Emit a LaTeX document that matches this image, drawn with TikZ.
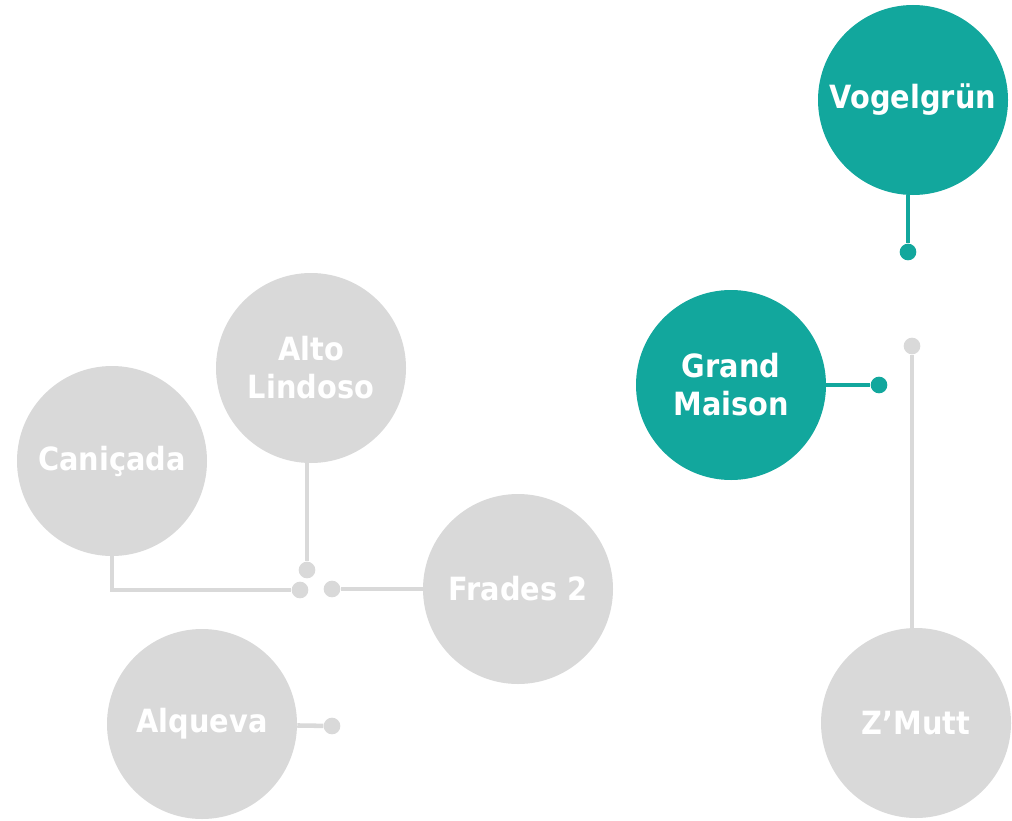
\documentclass[tikz,border=0pt]{standalone}
\usepackage{fontspec}
\setmainfont{DejaVu Sans Condensed}
\usetikzlibrary{positioning}
\definecolor{PlantTeal}{HTML}{12A79D}
\definecolor{PlantGrey}{HTML}{D9D9D9}
\tikzset{
  plant/.style={
    circle,
    fill=PlantGrey,
    minimum size=142.5pt,
    inner sep=0pt,
    align=center,
    text=white,
    font=\fontsize{24}{28.5}\selectfont\bfseries
  },
  plantactive/.style={plant,fill=PlantTeal},
  pin/.style={circle,fill=PlantGrey,minimum size=12.5pt,inner sep=0pt},
  pinactive/.style={pin,fill=PlantTeal},
  link/.style={draw=PlantGrey,line width=3.4pt},
  linkactive/.style={draw=PlantTeal,line width=3pt}
}

\begin{document}
\begin{tikzpicture}[x=0.75pt,y=-0.75pt]
  \useasboundingbox (0,0) rectangle (1012,820);

  % right group
  \node[plantactive] (vogel) at (913,100) {Vogelgrün};
  \node[plantactive] (grand) at (731,385) {Grand\\Maison};
  \node[plant] (zmutt) at (916,723) {Z’Mutt};
  \node[pinactive] (vogelpin) at (908,252) {};
  \node[pinactive] (grandpin) at (879,385) {};
  \node[pin] (zmuttpin) at (912,346) {};

  \draw[linkactive] (vogelpin |- vogel.south) -- (vogelpin);
  \draw[linkactive] (grand) -- (grandpin);
  \draw[link] (zmuttpin) -- (zmuttpin |- zmutt.north);

  % left group
  \node[plant] (alto) at (311,368) {Alto\\Lindoso};
  \node[plant] (canicada) at (112,461) {Caniçada};
  \node[plant] (frades) at (518,589) {Frades 2};
  \node[plant] (alqueva) at (202,724) {Alqueva};
  \node[pin] (altopin) at (307,570) {};
  \node[pin] (canicadapin) at (300,590) {};
  \node[pin] (fradespin) at (332,589) {};
  \node[pin] (alquevapin) at (332,726) {};

  \draw[link] (altopin |- alto.south) -- (altopin);
  \draw[link] (canicada.south) |- (canicadapin);
  \draw[link] (frades) -- (fradespin);
  \draw[link] (alqueva) -- (alquevapin);
\end{tikzpicture}
\end{document}
